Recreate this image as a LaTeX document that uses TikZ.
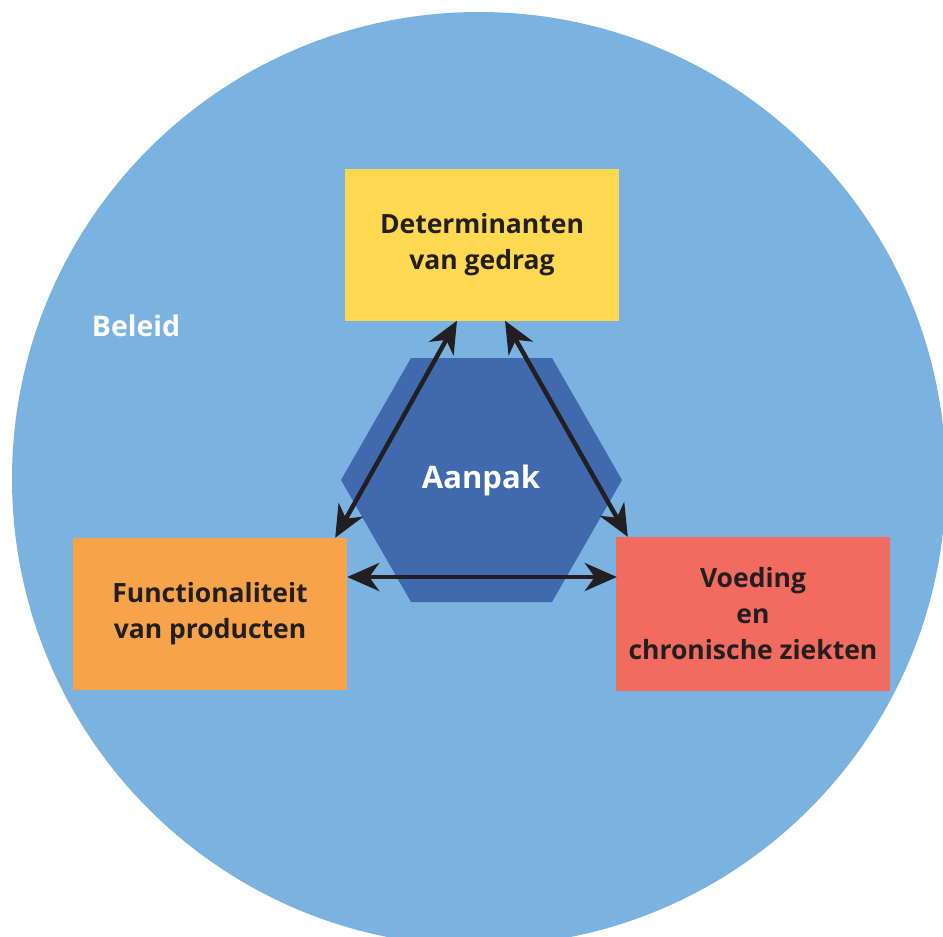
\documentclass[tikz,border=0pt]{standalone}
\usepackage{fontspec}
\setmainfont{Open Sans}
\usetikzlibrary{arrows.meta}
\definecolor{bgblue}{RGB}{122,179,223}
\definecolor{hexblue}{RGB}{65,106,174}
\definecolor{yel}{RGB}{255,216,82}
\definecolor{ora}{RGB}{247,163,74}
\definecolor{redc}{RGB}{242,107,96}
\definecolor{ink}{RGB}{35,31,32}
\tikzset{
  box/.style={minimum width=274pt, minimum height=152pt, inner sep=0pt, align=center,
    text=ink, font=\fontsize{26.5}{36}\selectfont\bfseries},
  link/.style={draw=ink, line width=4.5pt,
    {Stealth[length=32pt,width=28pt,inset=10pt]}-{Stealth[length=32pt,width=28pt,inset=10pt]}}
}
\begin{document}
\begin{tikzpicture}[x=1pt,y=-1pt]
\useasboundingbox (0,0) rectangle (943,937);
\clip (0,0) rectangle (943,937);
\fill[bgblue] (479,479) circle[radius=467];
\fill[hexblue] (341,480) -- (411,358) -- (552,358) -- (622,480) -- (552,602) -- (411,602) -- cycle;
\node[text=white, font=\fontsize{31}{36}\selectfont\bfseries, anchor=base] (hex) at (481,488) {Aanpak};
\node[text=white, font=\fontsize{28.5}{36}\selectfont\bfseries, anchor=base] (beleid) at (136,336) {Beleid};
\node[box, fill=yel] (det) at (482,244.5) {Determinanten\\van gedrag};
\node[box, fill=ora] (fun) at (210,614) {Functionaliteit\\van producten};
\node[box, fill=redc, minimum height=154pt] (voe) at (753,614) {Voeding\\en\\chronische ziekten};
\draw[link] ([xshift=-25pt]det.south) -- ([xshift=-12pt]fun.north east);
\draw[link] ([xshift=23pt]det.south) -- ([xshift=12pt]voe.north west);
\draw[link] ([yshift=37pt]fun.east) -- ([yshift=37pt,xshift=1pt]voe.west);
\end{tikzpicture}
\end{document}
